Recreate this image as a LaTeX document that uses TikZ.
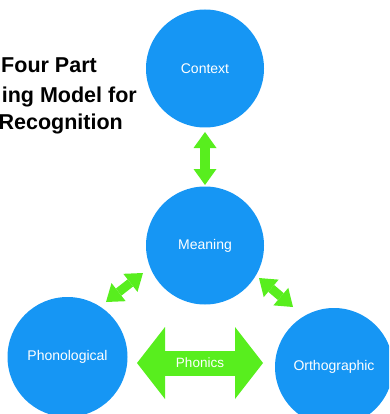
\documentclass[tikz,border=0pt]{standalone}
\usepackage{fontspec}
\setmainfont{Liberation Sans}
\usetikzlibrary{arrows.meta}
\definecolor{cblue}{RGB}{22,150,244}
\definecolor{agreen}{RGB}{88,238,30}
\tikzset{
  bubble/.style={circle, fill=cblue, draw=none, minimum size=118pt, inner sep=0pt,
    text=white, font=\fontsize{14}{16}\selectfont},
  titletxt/.style={anchor=base east, inner sep=0pt, font=\fontsize{21.5}{25}\selectfont\bfseries},
  dblarrow/.style n args={3}{draw=agreen, line width=#1,
    {Triangle[length=#2,width=#3,line width=0pt]}-{Triangle[length=#2,width=#3,line width=0pt]}},
  arrtxt/.style={text=white, inner sep=0pt, font=\fontsize{13.5}{15}\selectfont}
}
\begin{document}
\begin{tikzpicture}[x=1pt,y=-1pt]
\useasboundingbox (0,0) rectangle (389,414);
\clip (0,0) rectangle (389,414);
% title
\node[titletxt] (t1) at (97,73) {Four Part};
\node[titletxt] (t2) at (137,103) {ing Model for};
\node[titletxt] (t3) at (123,130) {Recognition};
% circles
\node[bubble] (ctx) at (205,68.5) {Context};
\node[bubble] (mean) at (205,245.5) {Meaning};
\node[bubble, minimum size=120pt] (phon) at (67.5,357) {Phonological};
\node[bubble] (orth) at (334,367) {Orthographic};
% arrow end points
\coordinate (a1) at ([shift={(0,63.5)}]ctx.center);
\coordinate (a2) at ([shift={(0,-60.5)}]mean.center);
\coordinate (b1) at ([shift={(-62,27.5)}]mean.center);
\coordinate (b2) at ([shift={(38.5,-55)}]phon.center);
\coordinate (c1) at ([shift={(54,32.5)}]mean.center);
\coordinate (c2) at ([shift={(-41,-60)}]orth.center);
\coordinate (p1) at ([shift={(69.5,6)}]phon.center);
\coordinate (p2) at ([shift={(-71,-4)}]orth.center);
% arrows
\draw[dblarrow={9.5pt}{16pt}{23pt}] (a1) -- (a2);
\draw[dblarrow={9pt}{16pt}{23pt}] (b1) -- (b2);
\draw[dblarrow={9pt}{16pt}{23pt}] (c1) -- (c2);
\draw[dblarrow={25pt}{28pt}{72pt}] (p1) -- node[arrtxt] (ph) {Phonics} (p2);
\end{tikzpicture}
\end{document}
